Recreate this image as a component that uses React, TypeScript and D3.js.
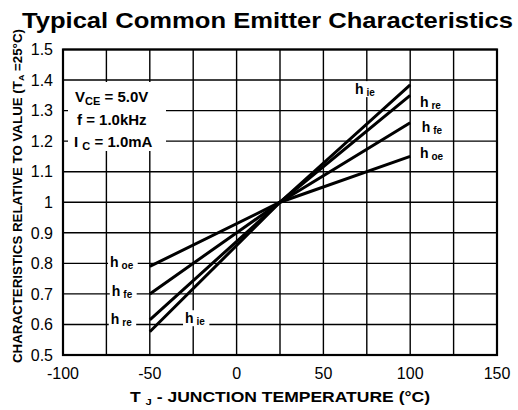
import { useEffect, useRef } from "react";
import * as d3 from "d3";

// temperature (°C) at the ends and the crossing point of each curve
const temps = [-50, 25, 100];
const hie = [0.576, 1.0, 1.384];
const hre = [0.615, 1.0, 1.35];
const hfe = [0.7, 1.0, 1.26];
const hoe = [0.79, 1.0, 1.15];

const xTicks = [-100, -75, -50, -25, 0, 25, 50, 75, 100, 125, 150];
const xTickLabels = ["-100", "-50", "0", "50", "100", "150"];
const yTicks = [0.5, 0.6, 0.7, 0.8, 0.9, 1.0, 1.1, 1.2, 1.3, 1.4, 1.5];
const yTickLabels = ["0.5", "0.6", "0.7", "0.8", "0.9", "1", "1.1", "1.2", "1.3", "1.4", "1.5"];

const W = 518;
const H = 410;
const FONT = "'Liberation Sans', Arial, sans-serif";

export default function App() {
  const svgRef = useRef<SVGSVGElement>(null);

  useEffect(() => {
    if (!svgRef.current) return;
    const svg = d3.select(svgRef.current);
    svg.selectAll("*").remove();

    const margin = { top: 49.5, right: 21, bottom: 55, left: 63 };
    const x = d3.scaleLinear().domain([-100, 150]).range([margin.left, W - margin.right]);
    const y = d3.scaleLinear().domain([0.5, 1.5]).range([H - margin.bottom, margin.top]);

    svg.append("rect").attr("width", W).attr("height", H).attr("fill", "#fff");

    // title
    svg
      .append("text")
      .attr("x", 22)
      .attr("y", 28)
      .attr("font-family", FONT)
      .attr("font-weight", "bold")
      .attr("font-size", 22)
      .attr("textLength", 491)
      .attr("lengthAdjust", "spacingAndGlyphs")
      .text("Typical Common Emitter Characteristics");

    // grid
    const grid = svg.append("g").attr("stroke", "#000").attr("stroke-width", 1.4);
    grid
      .selectAll("line.v")
      .data(xTicks)
      .join("line")
      .attr("x1", (d) => x(d))
      .attr("x2", (d) => x(d))
      .attr("y1", y(0.5))
      .attr("y2", y(1.5));
    grid
      .selectAll("line.h")
      .data(yTicks)
      .join("line")
      .attr("y1", (d) => y(d))
      .attr("y2", (d) => y(d))
      .attr("x1", x(-100))
      .attr("x2", x(150));

    // frame
    svg
      .append("rect")
      .attr("x", x(-100))
      .attr("y", y(1.5))
      .attr("width", x(150) - x(-100))
      .attr("height", y(0.5) - y(1.5))
      .attr("fill", "none")
      .attr("stroke", "#000")
      .attr("stroke-width", 2.2);

    // tick labels
    svg
      .selectAll("text.ytick")
      .data(yTicks)
      .join("text")
      .attr("x", 53)
      .attr("y", (d) => y(d))
      .attr("dy", "0.36em")
      .attr("text-anchor", "end")
      .attr("font-family", FONT)
      .attr("font-size", 16)
      .text((_, i) => yTickLabels[i]);

    svg
      .selectAll("text.xtick")
      .data(xTickLabels)
      .join("text")
      .attr("x", (d) => x(+d))
      .attr("y", 379)
      .attr("text-anchor", "middle")
      .attr("font-family", FONT)
      .attr("font-size", 16)
      .text((d) => d);

    // axis titles
    const xt = svg
      .append("text")
      .attr("x", 130)
      .attr("y", 402)
      .attr("font-family", FONT)
      .attr("font-weight", "bold")
      .attr("font-size", 14)
      .attr("textLength", 300)
      .attr("lengthAdjust", "spacingAndGlyphs");
    xt.append("tspan").text("T ");
    xt.append("tspan").attr("font-size", 9).attr("dy", 3).text("J");
    xt.append("tspan").attr("dy", -3).text(" - JUNCTION TEMPERATURE (°C)");

    const yt = svg
      .append("text")
      .attr("transform", `translate(22,363) rotate(-90)`)
      .attr("font-family", FONT)
      .attr("font-weight", "bold")
      .attr("font-size", 12)
      .attr("textLength", 334)
      .attr("lengthAdjust", "spacingAndGlyphs");
    yt.append("tspan").text("CHARACTERISTICS RELATIVE TO VALUE (T");
    yt.append("tspan").attr("font-size", 8).attr("dy", 2).text("A");
    yt.append("tspan").attr("dy", -2).text(" =25°C)");

    // curves
    const series = [hie, hre, hfe, hoe];
    const line = d3
      .line<number>()
      .x((_, i) => x(temps[i]))
      .y((d) => y(d));
    svg
      .selectAll("path.curve")
      .data(series)
      .join("path")
      .attr("d", (d) => line(d))
      .attr("fill", "none")
      .attr("stroke", "#000")
      .attr("stroke-width", 3);

    // conditions box
    svg
      .append("rect")
      .attr("x", 68)
      .attr("y", 82)
      .attr("width", 98)
      .attr("height", 69)
      .attr("fill", "#fff");
    const cond = svg
      .append("g")
      .attr("font-family", FONT)
      .attr("font-weight", "bold")
      .attr("font-size", 15);
    const c1 = cond.append("text").attr("x", 75).attr("y", 102);
    c1.append("tspan").text("V");
    c1.append("tspan").attr("font-size", 11).attr("dy", 3).text("CE");
    c1.append("tspan").attr("dy", -3).text(" = 5.0V");
    cond.append("text").attr("x", 77).attr("y", 125).text("f = 1.0kHz");
    const c3 = cond.append("text").attr("x", 74).attr("y", 147);
    c3.append("tspan").text("I ");
    c3.append("tspan").attr("font-size", 11).attr("dy", 3).text("C");
    c3.append("tspan").attr("dy", -3).text(" = 1.0mA");

    // curve labels
    const labels: Array<[number, number, string]> = [
      [68.2, 1.354, "ie"],
      [105.6, 1.313, "re"],
      [106.6, 1.231, "fe"],
      [105.6, 1.145, "oe"],
      [-72.9, 0.787, "oe"],
      [-71.9, 0.693, "fe"],
      [-72.5, 0.601, "re"],
      [-29.7, 0.604, "ie"],
    ];
    labels.forEach(([t, v, sub]) => {
      const g = svg.append("g");
      const bg = g.append("rect").attr("fill", "#fff");
      const txt = g
        .append("text")
        .attr("x", x(t))
        .attr("y", y(v))
        .attr("font-family", FONT)
        .attr("font-weight", "bold")
        .attr("font-size", 14);
      txt.append("tspan").text("h");
      txt.append("tspan").attr("font-size", 10).attr("dx", 3).attr("dy", 2).text(sub);
      const b = (txt.node() as SVGTextElement).getBBox();
      bg.attr("x", b.x - 2)
        .attr("y", b.y)
        .attr("width", b.width + 6)
        .attr("height", b.height - 1);
    });
  }, []);

  return (
    <svg
      ref={svgRef}
      width={W}
      height={H}
      style={{ position: "absolute", left: 0, top: 0 }}
    />
  );
}
